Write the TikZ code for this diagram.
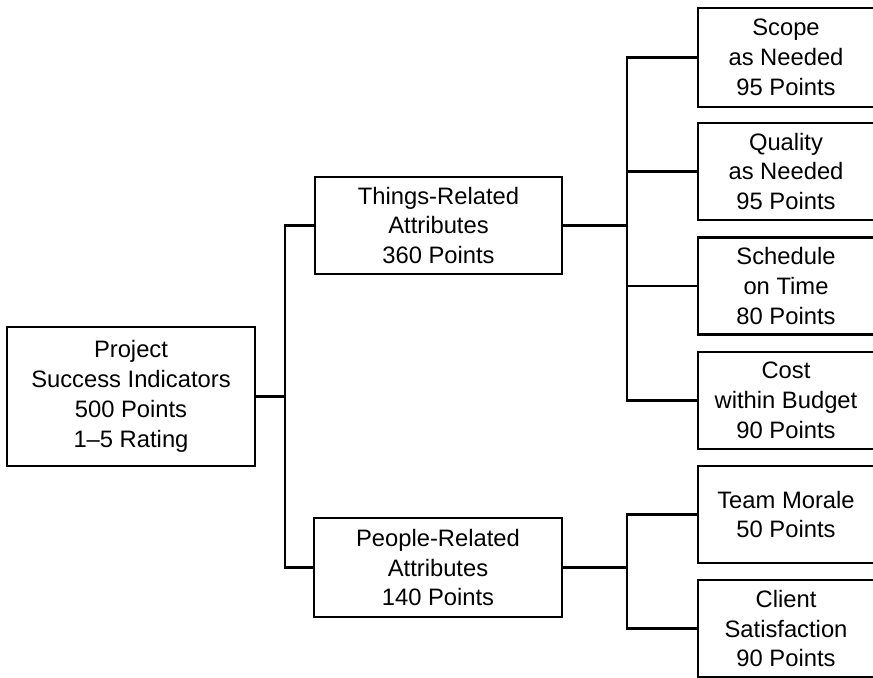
\documentclass[tikz,border=0pt]{standalone}
\usepackage{fontspec}
\setmainfont{Liberation Sans}
\begin{document}
\begin{tikzpicture}[x=0.025cm,y=-0.025cm,line width=1.8pt,
    box/.style={draw,align=center,inner sep=0pt,outer sep=0pt,
      font=\fontsize{16.9}{21.3}\selectfont},
    leaf/.style={box,draw=none,minimum width=4.4cm,minimum height=2.425cm}]
  \useasboundingbox (0,0) rectangle (873,677);
  \clip (0,0) rectangle (873,677);
  % Root and the two groups
  \node[box,minimum width=6.19cm,minimum height=3.475cm] (root) at (131,396.5)
    {Project\\Success Indicators\\500 Points\\1--5 Rating};
  \node[box,minimum width=6.175cm,minimum height=2.425cm] (things) at (438.5,225.5)
    {Things-Related\\Attributes\\360 Points};
  \node[box,minimum width=6.2cm,minimum height=2.475cm] (people) at (438,567.5)
    {People-Related\\Attributes\\140 Points};
  % Leaves (boxes run off the right edge)
  \node[leaf,minimum height=2.475cm] (scope) at (786,57.5) {Scope\\as Needed\\95 Points};
  \node[leaf] (quality) at (786,171.5) {Quality\\as Needed\\95 Points};
  \node[leaf] (schedule) at (786,286) {Schedule\\on Time\\80 Points};
  \node[leaf] (cost) at (786,400.5) {Cost\\within Budget\\90 Points};
  \node[leaf] (morale) at (786,514.5) {Team Morale\\50 Points};
  \node[leaf] (client) at (786,628.5) {Client\\Satisfaction\\90 Points};
  \foreach \n in {scope,quality,schedule,cost,morale,client}
    \draw (\n.north west) rectangle ([xshift=0.3cm]\n.south east);
  % Bus lines
  \coordinate (rootbus) at (285,396.5);
  \coordinate (thingsbus) at (627,225.5);
  \coordinate (peoplebus) at (627,567.5);
  \draw (root.east) -- (rootbus);
  \draw (things.west) -| (rootbus) |- (people.west);
  \draw (things.east) -- (thingsbus);
  \draw (scope.west) -| (thingsbus) |- (cost.west);
  \foreach \n in {quality,schedule}
    \draw (\n.west) -- (\n.west -| thingsbus);
  \draw (people.east) -- (peoplebus);
  \draw (morale.west) -| (peoplebus) |- (client.west);
\end{tikzpicture}
\end{document}
